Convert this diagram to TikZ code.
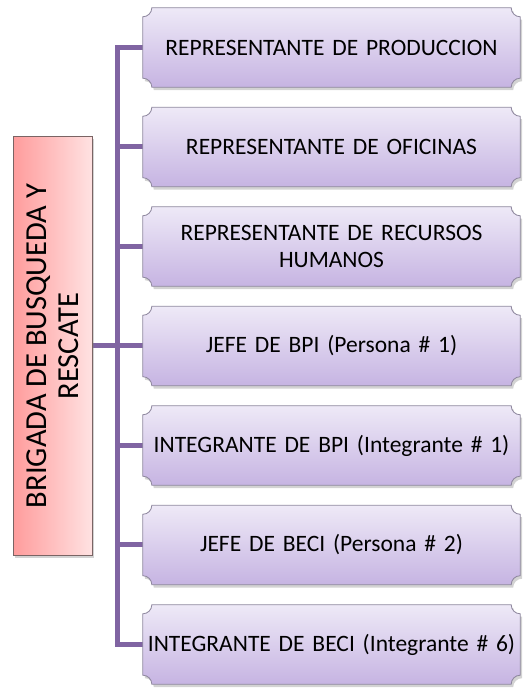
\documentclass[tikz,border=0pt]{standalone}
\usepackage{fontspec}
\setmainfont{Carlito}
\usetikzlibrary{shadows,backgrounds}
\definecolor{linkpurple}{HTML}{8064A2}
\definecolor{lavtop}{HTML}{EEE9F7}
\definecolor{lavbot}{HTML}{C6B4E2}
\definecolor{lavline}{HTML}{8E879E}
\definecolor{pinktop}{HTML}{FFE2E2}
\definecolor{pinkbot}{HTML}{FF9C9C}
\definecolor{pinkline}{HTML}{7A6464}

\begin{document}
\begin{tikzpicture}[x=1pt,y=1pt,
  link/.style={draw=linkpurple,line width=5pt},
  boxtext/.style={font=\fontsize{23.5}{27}\selectfont,align=center,inner sep=0pt},
  member/.style={boxtext,minimum width=377pt,minimum height=79pt,text width=370pt},
  brigade/.style={boxtext,font=\fontsize{30.5}{32}\selectfont,rotate=90,
    minimum width=419pt,minimum height=79pt,
    left color=pinkbot,right color=pinktop,draw=pinkline,line width=0.8pt,
    drop shadow={shadow xshift=2pt,shadow yshift=-3pt,opacity=0.35}},
  scoop/.style={top color=lavtop,bottom color=lavbot,draw=lavline,line width=0.8pt,
    drop shadow={shadow xshift=2pt,shadow yshift=-3pt,opacity=0.35}}]
\useasboundingbox (0,0) rectangle (525,689);

\node[brigade] (brigada) at (52.5,343) {BRIGADA DE BUSQUEDA Y\\RESCATE};

\node[member] (prod) at (331.5,641.5) {REPRESENTANTE DE PRODUCCION};
\node[member] (ofic) at (331.5,542) {REPRESENTANTE DE OFICINAS};
\node[member] (rrhh) at (331.5,442.5) {REPRESENTANTE DE RECURSOS\\HUMANOS};
\node[member] (jbpi) at (331.5,343) {JEFE DE BPI (Persona \# 1)};
\node[member] (ibpi) at (331.5,243.5) {INTEGRANTE DE BPI (Integrante \# 1)};
\node[member] (jbeci) at (331.5,144) {JEFE DE BECI (Persona \# 2)};
\node[member] (ibeci) at (331.5,44.5) {INTEGRANTE DE BECI (Integrante \# 6)};

\coordinate (trunk) at (117,0);

\begin{scope}[on background layer]
\draw[link] (prod.west) -- (prod.west -| trunk) -- (ibeci.west -| trunk) -- (ibeci.west);
\foreach \n in {ofic,rrhh,jbpi,ibpi,jbeci}
  \draw[link] (\n.west -| trunk) -- (\n.west);
\draw[link] (brigada.south) -- (brigada.south -| trunk);

\foreach \n in {prod,ofic,rrhh,jbpi,ibpi,jbeci,ibeci}
  \path[scoop] ([xshift=9pt]\n.north west) -- ([xshift=-9pt]\n.north east)
    arc[start angle=180,end angle=270,radius=9pt] -- ([yshift=9pt]\n.south east)
    arc[start angle=90,end angle=180,radius=9pt] -- ([xshift=9pt]\n.south west)
    arc[start angle=0,end angle=90,radius=9pt] -- ([yshift=-9pt]\n.north west)
    arc[start angle=270,end angle=360,radius=9pt] -- cycle;
\end{scope}
\end{tikzpicture}
\end{document}
